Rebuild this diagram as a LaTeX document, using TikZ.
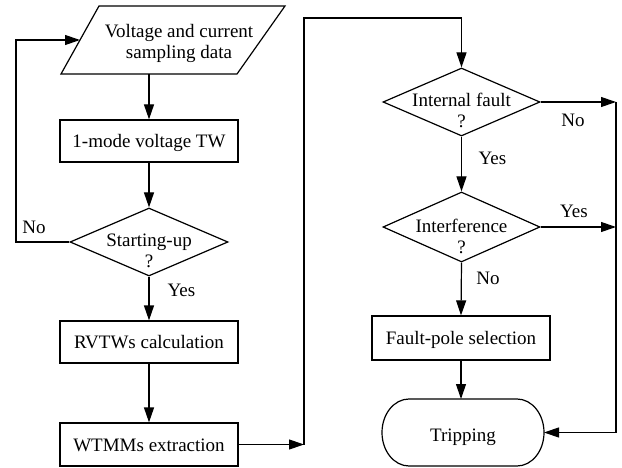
\documentclass[tikz,border=0pt]{standalone}
\usepackage{fontspec}
\setmainfont{Liberation Serif}
\usetikzlibrary{shapes.geometric,arrows.meta}
\begin{document}
\begin{tikzpicture}[x=1pt,y=-1pt,
  every node/.style={font=\fontsize{19}{21}\selectfont, inner sep=0pt},
  line/.style={line width=1.2pt},
  arr/.style={line width=1.2pt,-{Triangle[length=15pt,width=10pt]}},
  procbox/.style={draw,line width=1.2pt,rectangle,minimum width=178pt,minimum height=42pt,text height=13pt,text depth=0pt},
  decision/.style={draw,line width=1.2pt,diamond,minimum width=158pt,minimum height=68pt},
  dtext/.style={align=center},
  lbl/.style={anchor=base}]
\useasboundingbox (0,0) rectangle (622,468);

% left column: input parallelogram
\coordinate (ptl) at (99,6);
\coordinate (ptr) at (285,6);
\coordinate (pbr) at (237,74);
\coordinate (pbl) at (61,74);
\draw[line,line join=miter] (ptl) -- (ptr) -- (pbr) -- (pbl) -- cycle;
\coordinate (par-s) at (149,74);
\coordinate (par-w) at (80,40);
\node[align=center] (part) at (179,43) {Voltage and current\\sampling data};

\node[procbox] (b1) at (149,141) {1-mode voltage TW};
\node[decision] (d1) at (149,242) {};
\node[dtext] (d1t) at (149,250.5) {Starting-up\\?};
\node[procbox] (b2) at (149,342) {RVTWs calculation};
\node[procbox,minimum height=43pt] (b3) at (149,444.5) {WTMMs extraction};

% right column
\node[decision,minimum width=157pt] (d2) at (461.5,102) {};
\node[dtext] (d2t) at (461.5,110.5) {Internal fault\\?};
\node[decision,minimum width=157pt,minimum height=70pt] (d3) at (461.5,227) {};
\node[dtext] (d3t) at (461.5,236) {Interference\\?};
\node[procbox,minimum height=44pt] (b4) at (461,338) {Fault-pole selection};
\node[minimum width=162pt,minimum height=67pt,outer sep=0pt,text height=17pt,text depth=0pt] (trip) at (463,432.5) {Tripping};
\draw[line] ([xshift=27pt]trip.north west) -- ([xshift=-27pt]trip.north east)
  arc[start angle=90,end angle=-90,x radius=27pt,y radius=33.5pt]
  -- ([xshift=27pt]trip.south west)
  arc[start angle=270,end angle=90,x radius=27pt,y radius=33.5pt] -- cycle;

% helper coordinates
\coordinate (lx) at (16,0);
\coordinate (jx) at (304,0);
\coordinate (jt) at (0,18);
\coordinate (rx) at (616,0);

% connectors left
\draw[arr] (par-s) -- (b1.north);
\draw[arr] (b1.south) -- (d1.north);
\draw[arr] (d1.west) -- (d1.west -| lx) -- (lx |- par-w) -- (par-w);
\draw[arr] (d1.south) -- (b2.north);
\draw[arr] (b2.south) -- (b3.north);
\draw[arr] (b3.east) -- (b3.east -| jx);
\draw[arr] (b3.east -| jx) -- (jx |- jt) -- (d2.north |- jt) -- (d2.north);

% connectors right
\draw[arr] (d2.south) -- (d3.north);
\draw[arr] (d3.south) -- (b4.north);
\draw[arr] (b4.south) -- (b4.south |- trip.north);
\draw[arr] (d2.east) -- (d2.east -| rx);
\draw[arr] (d3.east) -- (d3.east -| rx);
\draw[arr] (d2.east -| rx) -- (trip.east -| rx) -- (trip.east);

% labels
\node[lbl] (lno1) at (34,234) {No};
\node[lbl] (lyes1) at (181.5,297) {Yes};
\node[lbl] (lyes2) at (492.5,165) {Yes};
\node[lbl] (lno2) at (573,127) {No};
\node[lbl] (lyes3) at (574,218) {Yes};
\node[lbl] (lno3) at (488,284) {No};
\end{tikzpicture}
\end{document}
